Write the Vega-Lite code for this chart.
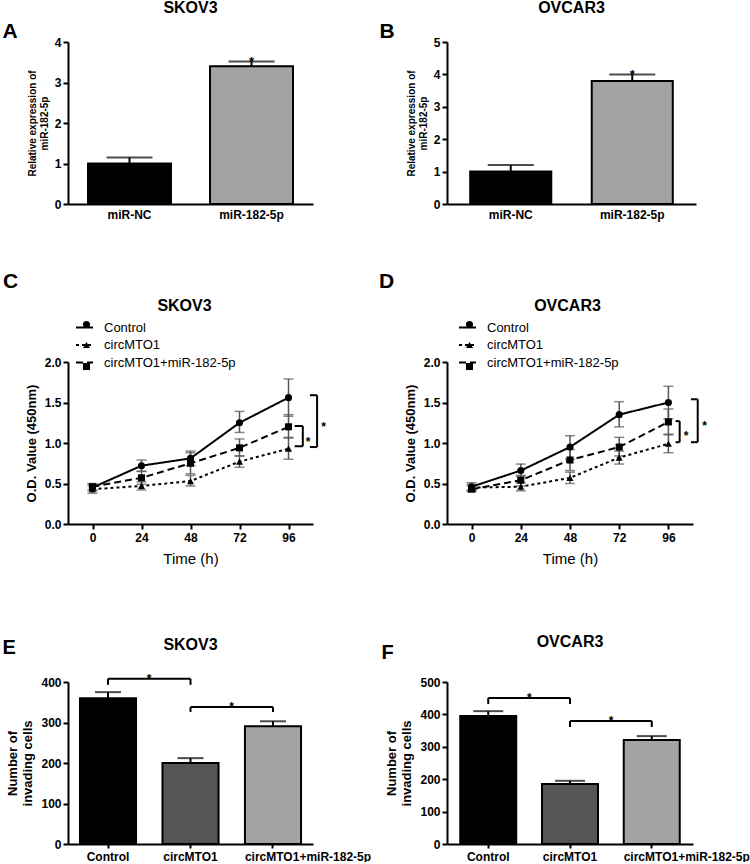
{
  "$schema": "https://vega.github.io/schema/vega-lite/v6.json",
  "padding": {"left": 2, "top": 0, "right": 0, "bottom": 0},
  "background": "white",
  "bounds": "flush",
  "columns": 2,
  "spacing": {"row": 158, "column": 134},
  "resolve": {"scale": {"color": "independent", "strokeDash": "independent", "shape": "independent"}, "legend": {"strokeDash": "independent", "shape": "independent"}},
  "config": {
    "font": "Liberation Sans",
    "view": {"stroke": null},
    "axis": {"labelFont": "Liberation Sans", "labelFontWeight": "bold", "labelFontSize": 12, "labelColor": "#000", "titleFont": "Liberation Sans", "titleColor": "#000", "titleFontWeight": "bold", "domainColor": "#000", "domainWidth": 2, "tickColor": "#000", "tickWidth": 2, "tickSize": 5, "grid": false, "labelPadding": 2, "labelOverlap": false},
    "title": {"font": "Liberation Sans", "fontWeight": "bold", "color": "#000", "fontSize": 16},
    "text": {"color": "#000"},
    "legend": {"labelFont": "Liberation Sans", "labelFontSize": 13, "labelColor": "#000"}
  },
  "concat": [
    {
      "width": 245, "height": 162,
      "title": {"text": "SKOV3", "offset": 4},
      "data": {"values": [
        {"g": "miR-NC", "v": 1.0, "e": 1.15, "s": ""},
        {"g": "miR-182-5p", "v": 3.4, "e": 3.52, "s": "*"}
      ]},
      "encoding": {"x": {"field": "g", "type": "nominal", "sort": null, "scale": {"paddingInner": 0.32, "paddingOuter": 0.164},
        "axis": {"title": "A", "titleX": -66, "titleY": -167, "titleAngle": 0, "titleAlign": "left", "titleBaseline": "alphabetic", "titleFontSize": 21, "labelAngle": 0, "ticks": false, "labelPadding": 5}}},
      "layer": [
        {"mark": {"type": "bar", "stroke": "#000", "strokeWidth": 2},
         "encoding": {
           "y": {"field": "v", "type": "quantitative", "scale": {"domain": [0, 4]}, "axis": {"title": ["Relative expression of", "miR-182-5p"], "titleFontSize": 10, "values": [0, 1, 2, 3, 4], "titlePadding": 5}},
           "color": {"field": "g", "type": "nominal", "sort": null, "scale": {"range": ["#000000", "#a3a3a3"]}, "legend": null}}},
        {"mark": {"type": "rule", "strokeWidth": 2, "color": "#000"}, "encoding": {"y": {"field": "v", "type": "quantitative", "axis": {"title": ["Relative expression of", "miR-182-5p"], "titleFontSize": 10, "values": [0, 1, 2, 3, 4], "titlePadding": 5}}, "y2": {"field": "e"}}},
        {"mark": {"type": "tick", "orient": "horizontal", "size": 46, "thickness": 2, "color": "#000"}, "encoding": {"y": {"field": "e", "type": "quantitative", "axis": {"title": ["Relative expression of", "miR-182-5p"], "titleFontSize": 10, "values": [0, 1, 2, 3, 4], "titlePadding": 5}}}},
        {"mark": {"type": "text", "fontSize": 13, "fontWeight": "bold", "baseline": "alphabetic", "dy": 5, "color": "#000"}, "encoding": {"y": {"field": "e", "type": "quantitative", "axis": {"title": ["Relative expression of", "miR-182-5p"], "titleFontSize": 10, "values": [0, 1, 2, 3, 4], "titlePadding": 5}}, "text": {"field": "s"}}}
      ]
    },
    {
      "width": 249, "height": 162,
      "title": {"text": "OVCAR3", "offset": 4},
      "data": {"values": [
        {"g": "miR-NC", "v": 1.0, "e": 1.2, "s": ""},
        {"g": "miR-182-5p", "v": 3.8, "e": 4.0, "s": "*"}
      ]},
      "encoding": {"x": {"field": "g", "type": "nominal", "sort": null, "scale": {"paddingInner": 0.333, "paddingOuter": 0.191},
        "axis": {"title": "B", "titleX": -68, "titleY": -167, "titleAngle": 0, "titleAlign": "left", "titleBaseline": "alphabetic", "titleFontSize": 21, "labelAngle": 0, "ticks": false, "labelPadding": 5}}},
      "layer": [
        {"mark": {"type": "bar", "stroke": "#000", "strokeWidth": 2},
         "encoding": {
           "y": {"field": "v", "type": "quantitative", "scale": {"domain": [0, 5]}, "axis": {"title": ["Relative expression of", "miR-182-5p"], "titleFontSize": 10, "values": [0, 1, 2, 3, 4, 5], "tickCount": 6, "titlePadding": 5}},
           "color": {"field": "g", "type": "nominal", "sort": null, "scale": {"range": ["#000000", "#a3a3a3"]}, "legend": null}}},
        {"mark": {"type": "rule", "strokeWidth": 2, "color": "#000"}, "encoding": {"y": {"field": "v", "type": "quantitative", "axis": {"title": ["Relative expression of", "miR-182-5p"], "titleFontSize": 10, "values": [0, 1, 2, 3, 4, 5], "tickCount": 6, "titlePadding": 5}}, "y2": {"field": "e"}}},
        {"mark": {"type": "tick", "orient": "horizontal", "size": 46, "thickness": 2, "color": "#000"}, "encoding": {"y": {"field": "e", "type": "quantitative", "axis": {"title": ["Relative expression of", "miR-182-5p"], "titleFontSize": 10, "values": [0, 1, 2, 3, 4, 5], "tickCount": 6, "titlePadding": 5}}}},
        {"mark": {"type": "text", "fontSize": 13, "fontWeight": "bold", "baseline": "alphabetic", "dy": 5, "color": "#000"}, "encoding": {"y": {"field": "e", "type": "quantitative", "axis": {"title": ["Relative expression of", "miR-182-5p"], "titleFontSize": 10, "values": [0, 1, 2, 3, 4, 5], "tickCount": 6, "titlePadding": 5}}, "text": {"field": "s"}}}
      ]
    },
    {
      "width": 245, "height": 162,
      "title": {"text": "C", "anchor": "start", "frame": "group", "fontSize": 21, "dx": -65, "offset": 5},
      "resolve": {"axis": {"x": "independent"}},
      "data": {"values": [
        {"t": 0, "g": "Control", "v": 0.45, "lo": 0.41, "hi": 0.49},
        {"t": 24, "g": "Control", "v": 0.72, "lo": 0.65, "hi": 0.79},
        {"t": 48, "g": "Control", "v": 0.81, "lo": 0.72, "hi": 0.9},
        {"t": 72, "g": "Control", "v": 1.25, "lo": 1.13, "hi": 1.39},
        {"t": 96, "g": "Control", "v": 1.56, "lo": 1.33, "hi": 1.79},
        {"t": 0, "g": "circMTO1", "v": 0.43, "lo": 0.38, "hi": 0.47},
        {"t": 24, "g": "circMTO1", "v": 0.47, "lo": 0.42, "hi": 0.52},
        {"t": 48, "g": "circMTO1", "v": 0.53, "lo": 0.47, "hi": 0.6},
        {"t": 72, "g": "circMTO1", "v": 0.77, "lo": 0.7, "hi": 0.84},
        {"t": 96, "g": "circMTO1", "v": 0.93, "lo": 0.8, "hi": 1.07},
        {"t": 0, "g": "circMTO1+miR-182-5p", "v": 0.46, "lo": 0.42, "hi": 0.5},
        {"t": 24, "g": "circMTO1+miR-182-5p", "v": 0.57, "lo": 0.49, "hi": 0.65},
        {"t": 48, "g": "circMTO1+miR-182-5p", "v": 0.75, "lo": 0.62, "hi": 0.88},
        {"t": 72, "g": "circMTO1+miR-182-5p", "v": 0.94, "lo": 0.84, "hi": 1.05},
        {"t": 96, "g": "circMTO1+miR-182-5p", "v": 1.2, "lo": 1.06, "hi": 1.35}
      ]},
      "layer": [
        {"mark": {"type": "rule", "color": "#555", "strokeWidth": 1.5},
         "encoding": {
           "x": {"field": "t", "type": "quantitative", "scale": {"domain": [-12, 108], "nice": false, "zero": false}, "axis": null},
           "y": {"field": "lo", "type": "quantitative", "scale": {"domain": [0, 2], "nice": false}, "axis": {"title": "O.D. Value (450nm)", "titleFontSize": 13, "values": [0, 0.5, 1, 1.5, 2], "format": ".1f", "titlePadding": 6}},
           "y2": {"field": "hi"}}},
        {"mark": {"type": "tick", "orient": "horizontal", "color": "#555", "size": 10, "thickness": 1.5},
         "encoding": {"x": {"field": "t", "type": "quantitative", "axis": null}, "y": {"field": "lo", "type": "quantitative", "axis": {"title": "O.D. Value (450nm)", "titleFontSize": 13, "values": [0, 0.5, 1, 1.5, 2], "format": ".1f", "titlePadding": 6}}}},
        {"mark": {"type": "tick", "orient": "horizontal", "color": "#555", "size": 10, "thickness": 1.5},
         "encoding": {"x": {"field": "t", "type": "quantitative", "axis": null}, "y": {"field": "hi", "type": "quantitative", "axis": {"title": "O.D. Value (450nm)", "titleFontSize": 13, "values": [0, 0.5, 1, 1.5, 2], "format": ".1f", "titlePadding": 6}}}},
        {"mark": {"type": "line", "color": "#000", "strokeWidth": 2},
         "encoding": {
           "x": {"field": "t", "type": "quantitative", "axis": {"title": "Time (h)", "titleFontWeight": "normal", "titleFontSize": 15, "values": [0, 24, 48, 72, 96], "titlePadding": 8, "labelPadding": 3}},
           "y": {"field": "v", "type": "quantitative", "axis": {"title": "O.D. Value (450nm)", "titleFontSize": 13, "values": [0, 0.5, 1, 1.5, 2], "format": ".1f", "titlePadding": 6}},
           "strokeDash": {"field": "g", "type": "nominal", "scale": {"range": [[1, 0], [3, 3], [7, 4]]},
             "legend": {"orient": "none", "legendX": 7, "legendY": -44, "title": null, "symbolType": "stroke", "symbolSize": 289, "symbolStrokeWidth": 2, "symbolStrokeColor": "#000", "labelFontSize": 13, "rowPadding": 0.5, "labelOffset": 10}}}},
        {"mark": {"type": "point", "filled": true, "color": "#000", "opacity": 1, "size": 50},
         "encoding": {
           "x": {"field": "t", "type": "quantitative", "axis": null},
           "y": {"field": "v", "type": "quantitative", "axis": {"title": "O.D. Value (450nm)", "titleFontSize": 13, "values": [0, 0.5, 1, 1.5, 2], "format": ".1f", "titlePadding": 6}},
           "shape": {"field": "g", "type": "nominal", "scale": {"domain": ["Control", "circMTO1", "circMTO1+miR-182-5p"], "range": ["circle", "triangle-up", "square"]},
             "legend": {"orient": "none", "legendX": 7, "legendY": -44, "title": null, "symbolSize": 50, "symbolFillColor": "#000", "symbolStrokeColor": "#000", "symbolOffset": 5, "labelExpr": "''", "labelFontSize": 13, "rowPadding": 6.5, "labelOffset": 10}}}},
        {"data": {"values": [{"x": 103, "xt": 99, "y1": 1.21, "y2": 0.96}, {"x": 110, "xt": 106.5, "y1": 1.59, "y2": 0.95}]},
         "layer": [
           {"mark": {"type": "rule", "color": "#000", "strokeWidth": 2},
            "encoding": {"x": {"field": "x", "type": "quantitative", "axis": null}, "y": {"field": "y1", "type": "quantitative", "axis": {"title": "O.D. Value (450nm)", "titleFontSize": 13, "values": [0, 0.5, 1, 1.5, 2], "format": ".1f", "titlePadding": 6}}, "y2": {"field": "y2"}}},
           {"mark": {"type": "rule", "color": "#000", "strokeWidth": 2},
            "encoding": {"x": {"field": "xt", "type": "quantitative", "axis": null}, "x2": {"field": "x"}, "y": {"field": "y1", "type": "quantitative", "axis": {"title": "O.D. Value (450nm)", "titleFontSize": 13, "values": [0, 0.5, 1, 1.5, 2], "format": ".1f", "titlePadding": 6}}}},
           {"mark": {"type": "rule", "color": "#000", "strokeWidth": 2},
            "encoding": {"x": {"field": "xt", "type": "quantitative", "axis": null}, "x2": {"field": "x"}, "y": {"field": "y2", "type": "quantitative", "axis": {"title": "O.D. Value (450nm)", "titleFontSize": 13, "values": [0, 0.5, 1, 1.5, 2], "format": ".1f", "titlePadding": 6}}}}
         ]},
        {"data": {"values": [{"x": 104.5, "y": 1.06, "s": "*"}, {"x": 112, "y": 1.25, "s": "*"}]},
         "mark": {"type": "text", "fontSize": 12, "fontWeight": "bold", "baseline": "middle", "align": "left", "dy": 4, "color": "#000"},
         "encoding": {"x": {"field": "x", "type": "quantitative",
           "axis": {"orient": "top", "title": "SKOV3", "titleFontSize": 16, "domain": false, "ticks": false, "labels": false, "titleX": 116, "titleY": -52, "titleAlign": "center", "titleBaseline": "alphabetic", "titleAngle": 0}},
           "y": {"field": "y", "type": "quantitative", "axis": {"title": "O.D. Value (450nm)", "titleFontSize": 13, "values": [0, 0.5, 1, 1.5, 2], "format": ".1f", "titlePadding": 6}}, "text": {"field": "s"}}}
      ]
    },
    {
      "width": 246, "height": 162,
      "title": {"text": "D", "anchor": "start", "frame": "group", "fontSize": 21, "dx": -68, "offset": 5},
      "resolve": {"axis": {"x": "independent"}},
      "data": {"values": [
        {"t": 0, "g": "Control", "v": 0.46, "lo": 0.42, "hi": 0.51},
        {"t": 24, "g": "Control", "v": 0.66, "lo": 0.59, "hi": 0.74},
        {"t": 48, "g": "Control", "v": 0.95, "lo": 0.8, "hi": 1.09},
        {"t": 72, "g": "Control", "v": 1.35, "lo": 1.2, "hi": 1.51},
        {"t": 96, "g": "Control", "v": 1.5, "lo": 1.3, "hi": 1.7},
        {"t": 0, "g": "circMTO1", "v": 0.45, "lo": 0.41, "hi": 0.49},
        {"t": 24, "g": "circMTO1", "v": 0.46, "lo": 0.41, "hi": 0.51},
        {"t": 48, "g": "circMTO1", "v": 0.57, "lo": 0.5, "hi": 0.64},
        {"t": 72, "g": "circMTO1", "v": 0.82, "lo": 0.74, "hi": 0.9},
        {"t": 96, "g": "circMTO1", "v": 0.99, "lo": 0.88, "hi": 1.11},
        {"t": 0, "g": "circMTO1+miR-182-5p", "v": 0.43, "lo": 0.4, "hi": 0.47},
        {"t": 24, "g": "circMTO1+miR-182-5p", "v": 0.54, "lo": 0.47, "hi": 0.6},
        {"t": 48, "g": "circMTO1+miR-182-5p", "v": 0.79, "lo": 0.66, "hi": 0.92},
        {"t": 72, "g": "circMTO1+miR-182-5p", "v": 0.95, "lo": 0.84, "hi": 1.07},
        {"t": 96, "g": "circMTO1+miR-182-5p", "v": 1.26, "lo": 1.1, "hi": 1.42}
      ]},
      "layer": [
        {"mark": {"type": "rule", "color": "#555", "strokeWidth": 1.5},
         "encoding": {
           "x": {"field": "t", "type": "quantitative", "scale": {"domain": [-12, 108], "nice": false, "zero": false}, "axis": null},
           "y": {"field": "lo", "type": "quantitative", "scale": {"domain": [0, 2], "nice": false}, "axis": {"title": "O.D. Value (450nm)", "titleFontSize": 13, "values": [0, 0.5, 1, 1.5, 2], "format": ".1f", "titlePadding": 6}},
           "y2": {"field": "hi"}}},
        {"mark": {"type": "tick", "orient": "horizontal", "color": "#555", "size": 10, "thickness": 1.5},
         "encoding": {"x": {"field": "t", "type": "quantitative", "axis": null}, "y": {"field": "lo", "type": "quantitative", "axis": {"title": "O.D. Value (450nm)", "titleFontSize": 13, "values": [0, 0.5, 1, 1.5, 2], "format": ".1f", "titlePadding": 6}}}},
        {"mark": {"type": "tick", "orient": "horizontal", "color": "#555", "size": 10, "thickness": 1.5},
         "encoding": {"x": {"field": "t", "type": "quantitative", "axis": null}, "y": {"field": "hi", "type": "quantitative", "axis": {"title": "O.D. Value (450nm)", "titleFontSize": 13, "values": [0, 0.5, 1, 1.5, 2], "format": ".1f", "titlePadding": 6}}}},
        {"mark": {"type": "line", "color": "#000", "strokeWidth": 2},
         "encoding": {
           "x": {"field": "t", "type": "quantitative", "axis": {"title": "Time (h)", "titleFontWeight": "normal", "titleFontSize": 15, "values": [0, 24, 48, 72, 96], "titlePadding": 8, "labelPadding": 3}},
           "y": {"field": "v", "type": "quantitative", "axis": {"title": "O.D. Value (450nm)", "titleFontSize": 13, "values": [0, 0.5, 1, 1.5, 2], "format": ".1f", "titlePadding": 6}},
           "strokeDash": {"field": "g", "type": "nominal", "scale": {"range": [[1, 0], [3, 3], [7, 4]]},
             "legend": {"orient": "none", "legendX": 11, "legendY": -44, "title": null, "symbolType": "stroke", "symbolSize": 289, "symbolStrokeWidth": 2, "symbolStrokeColor": "#000", "labelFontSize": 13, "rowPadding": 0.5, "labelOffset": 10}}}},
        {"mark": {"type": "point", "filled": true, "color": "#000", "opacity": 1, "size": 50},
         "encoding": {
           "x": {"field": "t", "type": "quantitative", "axis": null},
           "y": {"field": "v", "type": "quantitative", "axis": {"title": "O.D. Value (450nm)", "titleFontSize": 13, "values": [0, 0.5, 1, 1.5, 2], "format": ".1f", "titlePadding": 6}},
           "shape": {"field": "g", "type": "nominal", "scale": {"domain": ["Control", "circMTO1", "circMTO1+miR-182-5p"], "range": ["circle", "triangle-up", "square"]},
             "legend": {"orient": "none", "legendX": 11, "legendY": -44, "title": null, "symbolSize": 50, "symbolFillColor": "#000", "symbolStrokeColor": "#000", "symbolOffset": 5, "labelExpr": "''", "labelFontSize": 13, "rowPadding": 6.5, "labelOffset": 10}}}},
        {"data": {"values": [{"x": 101.5, "xt": 99.5, "y1": 1.27, "y2": 1.01}, {"x": 110.3, "xt": 107, "y1": 1.54, "y2": 1.01}]},
         "layer": [
           {"mark": {"type": "rule", "color": "#000", "strokeWidth": 2},
            "encoding": {"x": {"field": "x", "type": "quantitative", "axis": null}, "y": {"field": "y1", "type": "quantitative", "axis": {"title": "O.D. Value (450nm)", "titleFontSize": 13, "values": [0, 0.5, 1, 1.5, 2], "format": ".1f", "titlePadding": 6}}, "y2": {"field": "y2"}}},
           {"mark": {"type": "rule", "color": "#000", "strokeWidth": 2},
            "encoding": {"x": {"field": "xt", "type": "quantitative", "axis": null}, "x2": {"field": "x"}, "y": {"field": "y1", "type": "quantitative", "axis": {"title": "O.D. Value (450nm)", "titleFontSize": 13, "values": [0, 0.5, 1, 1.5, 2], "format": ".1f", "titlePadding": 6}}}},
           {"mark": {"type": "rule", "color": "#000", "strokeWidth": 2},
            "encoding": {"x": {"field": "xt", "type": "quantitative", "axis": null}, "x2": {"field": "x"}, "y": {"field": "y2", "type": "quantitative", "axis": {"title": "O.D. Value (450nm)", "titleFontSize": 13, "values": [0, 0.5, 1, 1.5, 2], "format": ".1f", "titlePadding": 6}}}}
         ]},
        {"data": {"values": [{"x": 103.5, "y": 1.13, "s": "*"}, {"x": 112.5, "y": 1.26, "s": "*"}]},
         "mark": {"type": "text", "fontSize": 12, "fontWeight": "bold", "baseline": "middle", "align": "left", "dy": 4, "color": "#000"},
         "encoding": {"x": {"field": "x", "type": "quantitative",
           "axis": {"orient": "top", "title": "OVCAR3", "titleFontSize": 16, "domain": false, "ticks": false, "labels": false, "titleX": 120, "titleY": -52, "titleAlign": "center", "titleBaseline": "alphabetic", "titleAngle": 0}},
           "y": {"field": "y", "type": "quantitative", "axis": {"title": "O.D. Value (450nm)", "titleFontSize": 13, "values": [0, 0.5, 1, 1.5, 2], "format": ".1f", "titlePadding": 6}}, "text": {"field": "s"}}}
      ]
    },
    {
      "width": 245, "height": 162,
      "title": {"text": "SKOV3", "offset": 4, "dy": 20},
      "data": {"values": [
        {"g": "Control", "v": 360, "e": 375},
        {"g": "circMTO1", "v": 200, "e": 212},
        {"g": "circMTO1+miR-182-5p", "v": 291, "e": 303}
      ]},
      "encoding": {"x": {"field": "g", "type": "nominal", "sort": null, "scale": {"paddingInner": 0.32, "paddingOuter": 0.145},
        "axis": {"title": "E", "titleX": -66, "titleY": -191, "titleAngle": 0, "titleAlign": "left", "titleBaseline": "alphabetic", "titleFontSize": 20, "labelAngle": 0, "tickSize": 4, "labelPadding": 3, "labelLimit": 300,
          "labelOffset": {"condition": {"test": "datum.value == 'circMTO1+miR-182-5p'", "value": 35}, "value": 0}}}},
      "layer": [
        {"mark": {"type": "bar", "stroke": "#000", "strokeWidth": 2},
         "encoding": {
           "y": {"field": "v", "type": "quantitative", "scale": {"domain": [0, 400]}, "axis": {"title": ["Number of", "invading cells"], "titleFontSize": 13, "values": [0, 100, 200, 300, 400], "titlePadding": 6}},
           "color": {"field": "g", "type": "nominal", "sort": null, "scale": {"range": ["#000000", "#555555", "#a3a3a3"]}, "legend": null}}},
        {"mark": {"type": "rule", "strokeWidth": 2, "color": "#000"}, "encoding": {"y": {"field": "v", "type": "quantitative", "axis": {"title": ["Number of", "invading cells"], "titleFontSize": 13, "values": [0, 100, 200, 300, 400], "titlePadding": 6}}, "y2": {"field": "e"}}},
        {"mark": {"type": "tick", "orient": "horizontal", "size": 26, "thickness": 2, "color": "#000"}, "encoding": {"y": {"field": "e", "type": "quantitative", "axis": {"title": ["Number of", "invading cells"], "titleFontSize": 13, "values": [0, 100, 200, 300, 400], "titlePadding": 6}}}},
        {"data": {"values": [{"a": "Control", "b": "circMTO1", "y": 408, "y0": 393, "s": "*"}, {"a": "circMTO1", "b": "circMTO1+miR-182-5p", "y": 338, "y0": 326, "s": "*"}]},
         "layer": [
           {"mark": {"type": "rule", "strokeWidth": 2, "color": "#000"}, "encoding": {"x": {"field": "a", "type": "nominal"}, "x2": {"field": "b"}, "y": {"field": "y", "type": "quantitative", "axis": {"title": ["Number of", "invading cells"], "titleFontSize": 13, "values": [0, 100, 200, 300, 400], "titlePadding": 6}}}},
           {"mark": {"type": "rule", "strokeWidth": 2, "color": "#000"}, "encoding": {"x": {"field": "a", "type": "nominal"}, "y": {"field": "y", "type": "quantitative", "axis": {"title": ["Number of", "invading cells"], "titleFontSize": 13, "values": [0, 100, 200, 300, 400], "titlePadding": 6}}, "y2": {"field": "y0"}}},
           {"mark": {"type": "rule", "strokeWidth": 2, "color": "#000"}, "encoding": {"x": {"field": "b", "type": "nominal"}, "y": {"field": "y", "type": "quantitative", "axis": {"title": ["Number of", "invading cells"], "titleFontSize": 13, "values": [0, 100, 200, 300, 400], "titlePadding": 6}}, "y2": {"field": "y0"}}},
           {"mark": {"type": "text", "fontSize": 12, "fontWeight": "bold", "baseline": "alphabetic", "dx": 41, "dy": 4, "color": "#000"}, "encoding": {"x": {"field": "a", "type": "nominal"}, "y": {"field": "y", "type": "quantitative", "axis": {"title": ["Number of", "invading cells"], "titleFontSize": 13, "values": [0, 100, 200, 300, 400], "titlePadding": 6}}, "text": {"field": "s"}}}
         ]}
      ]
    },
    {
      "width": 246, "height": 162,
      "title": {"text": "OVCAR3", "offset": 4, "dy": 12},
      "data": {"values": [
        {"g": "Control", "v": 395, "e": 410},
        {"g": "circMTO1", "v": 185, "e": 195},
        {"g": "circMTO1+miR-182-5p", "v": 321, "e": 333}
      ]},
      "encoding": {"x": {"field": "g", "type": "nominal", "sort": null, "scale": {"paddingInner": 0.315, "paddingOuter": 0.162},
        "axis": {"title": "F", "titleX": -66, "titleY": -186, "titleAngle": 0, "titleAlign": "left", "titleBaseline": "alphabetic", "titleFontSize": 20, "labelAngle": 0, "tickSize": 4, "labelPadding": 3, "labelLimit": 300,
          "labelOffset": {"condition": {"test": "datum.value == 'circMTO1+miR-182-5p'", "value": 35}, "value": 0}}}},
      "layer": [
        {"mark": {"type": "bar", "stroke": "#000", "strokeWidth": 2},
         "encoding": {
           "y": {"field": "v", "type": "quantitative", "scale": {"domain": [0, 500]}, "axis": {"title": ["Number of", "invading cells"], "titleFontSize": 13, "values": [0, 100, 200, 300, 400, 500], "titlePadding": 6}},
           "color": {"field": "g", "type": "nominal", "sort": null, "scale": {"range": ["#000000", "#555555", "#a3a3a3"]}, "legend": null}}},
        {"mark": {"type": "rule", "strokeWidth": 2, "color": "#000"}, "encoding": {"y": {"field": "v", "type": "quantitative", "axis": {"title": ["Number of", "invading cells"], "titleFontSize": 13, "values": [0, 100, 200, 300, 400, 500], "titlePadding": 6}}, "y2": {"field": "e"}}},
        {"mark": {"type": "tick", "orient": "horizontal", "size": 30, "thickness": 2, "color": "#000"}, "encoding": {"y": {"field": "e", "type": "quantitative", "axis": {"title": ["Number of", "invading cells"], "titleFontSize": 13, "values": [0, 100, 200, 300, 400, 500], "titlePadding": 6}}}},
        {"data": {"values": [{"a": "Control", "b": "circMTO1", "y": 451, "y0": 432, "s": "*"}, {"a": "circMTO1", "b": "circMTO1+miR-182-5p", "y": 380, "y0": 361, "s": "*"}]},
         "layer": [
           {"mark": {"type": "rule", "strokeWidth": 2, "color": "#000"}, "encoding": {"x": {"field": "a", "type": "nominal"}, "x2": {"field": "b"}, "y": {"field": "y", "type": "quantitative", "axis": {"title": ["Number of", "invading cells"], "titleFontSize": 13, "values": [0, 100, 200, 300, 400, 500], "titlePadding": 6}}}},
           {"mark": {"type": "rule", "strokeWidth": 2, "color": "#000"}, "encoding": {"x": {"field": "a", "type": "nominal"}, "y": {"field": "y", "type": "quantitative", "axis": {"title": ["Number of", "invading cells"], "titleFontSize": 13, "values": [0, 100, 200, 300, 400, 500], "titlePadding": 6}}, "y2": {"field": "y0"}}},
           {"mark": {"type": "rule", "strokeWidth": 2, "color": "#000"}, "encoding": {"x": {"field": "b", "type": "nominal"}, "y": {"field": "y", "type": "quantitative", "axis": {"title": ["Number of", "invading cells"], "titleFontSize": 13, "values": [0, 100, 200, 300, 400, 500], "titlePadding": 6}}, "y2": {"field": "y0"}}},
           {"mark": {"type": "text", "fontSize": 12, "fontWeight": "bold", "baseline": "alphabetic", "dx": 41, "dy": 4, "color": "#000"}, "encoding": {"x": {"field": "a", "type": "nominal"}, "y": {"field": "y", "type": "quantitative", "axis": {"title": ["Number of", "invading cells"], "titleFontSize": 13, "values": [0, 100, 200, 300, 400, 500], "titlePadding": 6}}, "text": {"field": "s"}}}
         ]}
      ]
    }
  ]
}
